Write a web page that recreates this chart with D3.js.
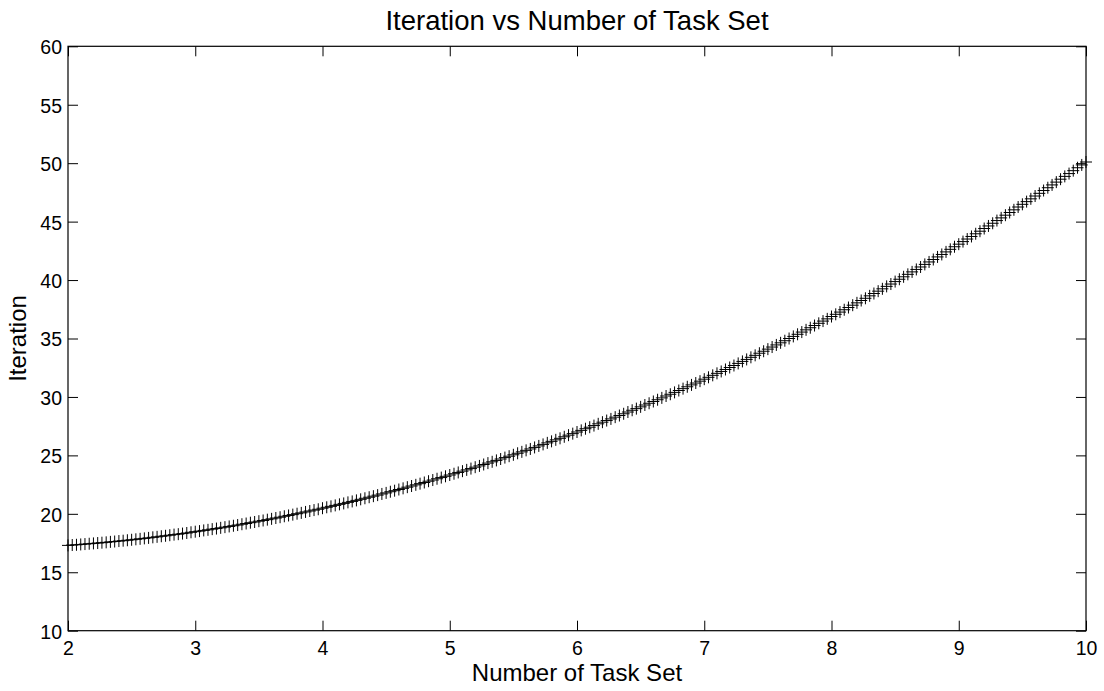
<!DOCTYPE html>
<html>
<head>
<meta charset="utf-8">
<script src="https://cdn.jsdelivr.net/npm/d3@7"></script>
<style>
  html, body { margin: 0; padding: 0; background: #fff; }
  svg { display: block; font-family: "Liberation Sans", Arial, sans-serif; }
</style>
</head>
<body>
<svg id="chart" width="1104" height="691"></svg>
<script>
// Sampling grid of the task-set axis: one sample every 1/30 of a unit from 2 to 10
const xStart = 2;
const xStep = 1 / 30;

// Iteration count per sample (30 samples per unit, last value at x = 10)
const iterations = [
  // 2 .. 3
  17.30, 17.33, 17.35, 17.38, 17.41, 17.44, 17.47, 17.50, 17.53, 17.56,
  17.60, 17.63, 17.67, 17.70, 17.74, 17.78, 17.82, 17.86, 17.90, 17.94,
  17.99, 18.03, 18.08, 18.12, 18.17, 18.22, 18.26, 18.31, 18.36, 18.42,
  // 3 .. 4
  18.47, 18.52, 18.58, 18.63, 18.69, 18.74, 18.80, 18.86, 18.92, 18.98,
  19.04, 19.11, 19.17, 19.24, 19.30, 19.37, 19.43, 19.50, 19.57, 19.64,
  19.71, 19.79, 19.86, 19.93, 20.01, 20.08, 20.16, 20.24, 20.32, 20.39,
  // 4 .. 5
  20.48, 20.56, 20.64, 20.72, 20.81, 20.89, 20.98, 21.06, 21.15, 21.24,
  21.33, 21.42, 21.51, 21.60, 21.70, 21.79, 21.89, 21.98, 22.08, 22.18,
  22.28, 22.38, 22.48, 22.58, 22.68, 22.79, 22.89, 23.00, 23.10, 23.21,
  // 5 .. 6
  23.32, 23.43, 23.54, 23.65, 23.76, 23.87, 23.99, 24.10, 24.22, 24.34,
  24.45, 24.57, 24.69, 24.81, 24.93, 25.05, 25.18, 25.30, 25.43, 25.55,
  25.68, 25.81, 25.94, 26.07, 26.20, 26.33, 26.46, 26.59, 26.73, 26.86,
  // 6 .. 7
  27.00, 27.14, 27.28, 27.41, 27.55, 27.70, 27.84, 27.98, 28.12, 28.27,
  28.41, 28.56, 28.71, 28.86, 29.00, 29.15, 29.31, 29.46, 29.61, 29.76,
  29.92, 30.08, 30.23, 30.39, 30.55, 30.71, 30.87, 31.03, 31.19, 31.35,
  // 7 .. 8
  31.52, 31.68, 31.85, 32.02, 32.18, 32.35, 32.52, 32.69, 32.87, 33.04,
  33.21, 33.39, 33.56, 33.74, 33.91, 34.09, 34.27, 34.45, 34.63, 34.81,
  35.00, 35.18, 35.36, 35.55, 35.74, 35.92, 36.11, 36.30, 36.49, 36.68,
  // 8 .. 9
  36.88, 37.07, 37.26, 37.46, 37.65, 37.85, 38.05, 38.25, 38.44, 38.65,
  38.85, 39.05, 39.25, 39.46, 39.66, 39.87, 40.07, 40.28, 40.49, 40.70,
  40.91, 41.12, 41.34, 41.55, 41.76, 41.98, 42.19, 42.41, 42.63, 42.85,
  // 9 .. 10
  43.07, 43.29, 43.51, 43.73, 43.96, 44.18, 44.41, 44.63, 44.86, 45.09,
  45.32, 45.55, 45.78, 46.01, 46.25, 46.48, 46.71, 46.95, 47.19, 47.42,
  47.66, 47.90, 48.14, 48.38, 48.63, 48.87, 49.11, 49.36, 49.61, 49.85,
  // 10
  50.10
];

const xTicks = [2, 3, 4, 5, 6, 7, 8, 9, 10];
const yTicks = [10, 15, 20, 25, 30, 35, 40, 45, 50, 55, 60];
const xDomain = [2, 10];
const yDomain = [10, 60];

const titleText = "Iteration vs Number of Task Set";
const xLabelText = "Number of Task Set";
const yLabelText = "Iteration";

const svg = d3.select("#chart");
const W = 1104, H = 691;
const margin = { top: 46.3, right: 18, bottom: 60.3, left: 68 };
const innerW = W - margin.left - margin.right;
const innerH = H - margin.top - margin.bottom;

const x = d3.scaleLinear().domain(xDomain).range([0, innerW]);
const y = d3.scaleLinear().domain(yDomain).range([innerH, 0]);

const g = svg.append("g").attr("transform", `translate(${margin.left},${margin.top})`);

const tickFont = "19.5px";

// Axes with inward ticks on all four sides
const axisBottomG = g.append("g")
  .attr("transform", `translate(0,${innerH})`)
  .call(d3.axisBottom(x).tickValues(xTicks).tickSize(-10).tickPadding(10).tickFormat(d3.format("d")));
const axisTopG = g.append("g")
  .call(d3.axisTop(x).tickValues(xTicks).tickSize(-10).tickFormat(""));
const axisLeftG = g.append("g")
  .call(d3.axisLeft(y).tickValues(yTicks).tickSize(-10).tickPadding(6).tickFormat(d3.format("d")));
const axisRightG = g.append("g")
  .attr("transform", `translate(${innerW},0)`)
  .call(d3.axisRight(y).tickValues(yTicks).tickSize(-10).tickFormat(""));

[axisBottomG, axisTopG, axisLeftG, axisRightG].forEach(a => {
  a.select(".domain").remove();
  a.selectAll(".tick line").attr("stroke", "#000").attr("stroke-width", 1);
  a.selectAll(".tick text")
    .attr("fill", "#000")
    .style("font-size", tickFont)
    .style("font-family", "'Liberation Sans', Arial, sans-serif");
});
axisLeftG.selectAll(".tick text").attr("dy", "0.38em");

// Plot box
g.append("rect")
  .attr("x", 0).attr("y", 0)
  .attr("width", innerW).attr("height", innerH)
  .attr("fill", "none")
  .attr("stroke", "#000")
  .attr("stroke-width", 1.2);

// '+' markers for each sample
const points = iterations.map((v, i) => ({ x: xStart + i * xStep, y: v }));
g.append("g")
  .selectAll("path")
  .data(points)
  .join("path")
  .attr("transform", d => `translate(${x(d.x)},${y(d.y)})`)
  .attr("d", "M-6,0H6M0,-6V6")
  .attr("fill", "none")
  .attr("stroke", "#000")
  .attr("stroke-width", 1);

// Title and axis labels
svg.append("text")
  .attr("x", margin.left + innerW / 2)
  .attr("y", 30)
  .attr("text-anchor", "middle")
  .style("font-size", "27.5px")
  .attr("fill", "#000")
  .text(titleText);

svg.append("text")
  .attr("x", margin.left + innerW / 2)
  .attr("y", 680.5)
  .attr("text-anchor", "middle")
  .style("font-size", "24px")
  .attr("fill", "#000")
  .text(xLabelText);

svg.append("text")
  .attr("transform", `translate(26,${margin.top + innerH / 2}) rotate(-90)`)
  .attr("text-anchor", "middle")
  .style("font-size", "24px")
  .attr("fill", "#000")
  .text(yLabelText);
</script>
</body>
</html>
